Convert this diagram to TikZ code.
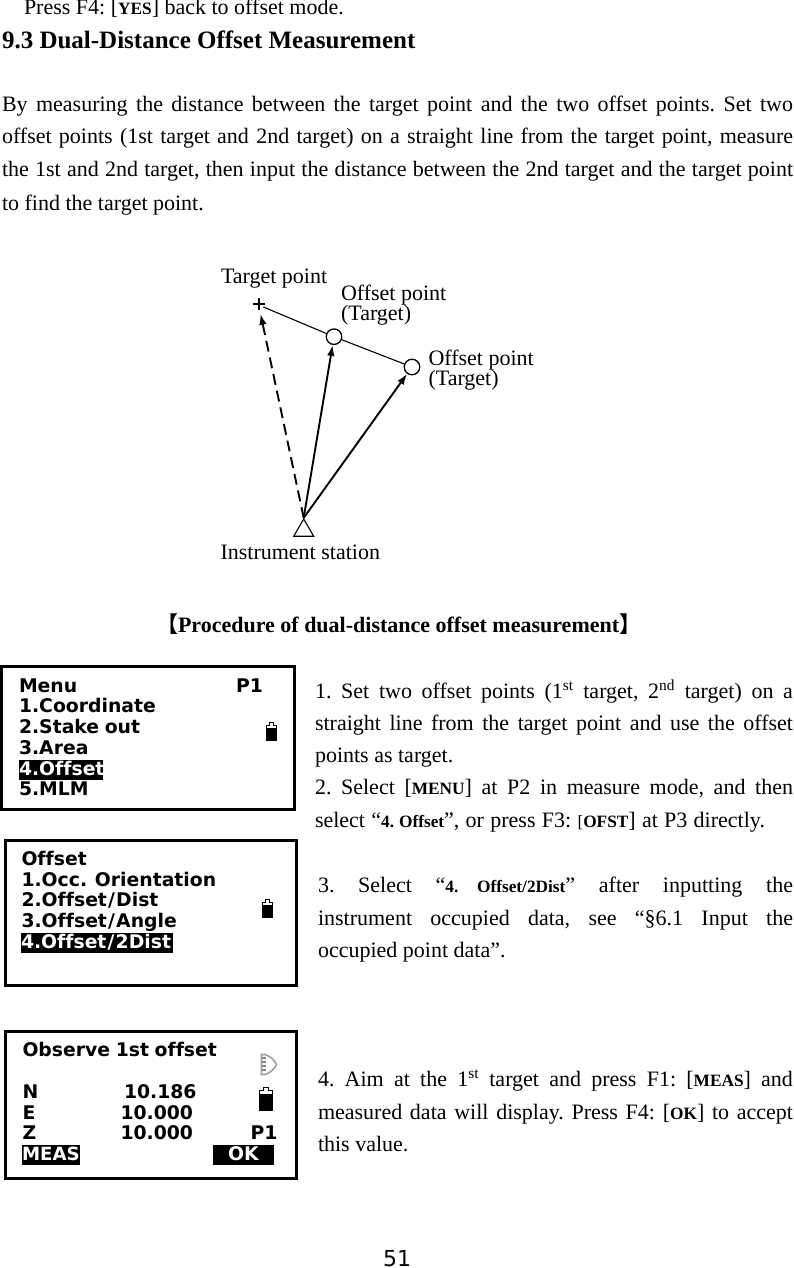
\documentclass[tikz,border=0pt]{standalone}
\usepackage{fontspec}
\setmainfont{Liberation Serif}
\newfontfamily\scr{DejaVu Sans}[BoldFont={DejaVu Sans Bold},Ligatures=NoCommon]
\newfontfamily\cjkbr{Noto Sans CJK SC}[BoldFont={Noto Sans CJK SC Bold}]
\usetikzlibrary{arrows.meta,shapes.geometric}
\newcommand{\bodyf}{\fontsize{22}{26}\selectfont\frenchspacing}
\newcommand{\scrf}{\scr\bfseries\fontsize{18.8}{22}\selectfont\spaceskip 0.3em\relax}
\newcommand{\smb}[1]{{\fontsize{17.3}{20}\selectfont\bfseries #1}}
\newcommand{\smn}[1]{{\fontsize{17.3}{20}\selectfont #1}}
\newcommand{\sus}[1]{\textsuperscript{#1}}
\newcommand{\wsl}{\hspace{1.2pt}/\hspace{1.2pt}}
% name, x, baseline y, width, text: one justified line
\newcommand{\jln}[5]{\node[txt] (#1) at (#2,#3) {\makebox[#4pt][s]{#5}};}
% name, x, baseline y, text: one natural line
\newcommand{\tln}[4]{\node[txt] (#1) at (#2,#3) {#4};}
\newcommand{\stl}[4]{\node[scrt] (#1) at (#2,#3) {#4};}
% x, bottom y, scale
\newcommand{\battery}[3]{%
  \begin{scope}[shift={(#1,#2)},scale=#3]
  \fill (-5.2,-13.5) rectangle (5.2,0);
  \draw[line width=0.8pt] (-5,-13.5) -- (-5,-16) -- (-2.2,-16) -- (-2.2,-18.5) -- (2.2,-18.5) -- (2.2,-16) -- (5,-16) -- (5,-13.5);
  \end{scope}}
\tikzset{
  txt/.style={anchor=base west,inner sep=0pt,outer sep=0pt,font=\bodyf},
  lab/.style={anchor=base west,inner sep=0pt,outer sep=0pt,font=\fontsize{22}{26}\selectfont},
  scrt/.style={anchor=base west,inner sep=0pt,outer sep=0pt,font=\scrf},
  hl/.style={scrt,fill=black,text=white,text height=15pt,text depth=4.5pt},
  screen/.style={draw=black,line width=3pt,fill=white,outer sep=0pt},
  pt/.style={circle,draw=black,line width=1.3pt,fill=white,minimum size=15.5pt,inner sep=0pt},
  tri/.style={regular polygon,regular polygon sides=3,draw=black,line width=1.1pt,minimum size=23pt,inner sep=0pt},
  sight/.style={line width=1.9pt,-{Latex[length=11pt,width=7.5pt]}},
  base/.style={line width=1.1pt},
}
\begin{document}
\begin{tikzpicture}[x=1pt,y=-1pt]
\useasboundingbox (0,0) rectangle (793,1268);
\tln{a0}{24}{15}{Press F4: [\smb{YES}] back to offset mode.}
\node[txt,font=\fontsize{25}{30}\selectfont\bfseries] (title) at (2,48.5) {9.3 Dual-Distance Offset Measurement};
\jln{p1}{2}{112}{791}{By measuring the distance between the target point and the two offset points. Set two}
\jln{p2}{2}{144}{791}{offset points (1st target and 2nd target) on a straight line from the target point, measure}
\jln{p3}{2}{177}{791}{the 1st and 2nd target, then input the distance between the 2nd target and the target point}
\tln{p4}{2}{210.5}{to find the target point.}

% figure
\coordinate (tp) at (258.7,305);
\node[pt] (c1) at (334,336.7) {};
\node[pt] (c2) at (412,367) {};
\node[tri] (st) at (303.7,530.5) {};
\draw[line width=2pt] (252.7,303.5) -- (264.7,303.5) (258.5,298) -- (258.5,310);
\draw[base,shorten <=5pt] (tp) -- (c1);
\draw[base] (c1) -- (c2);
\draw[sight] (st.corner 1) -- (c1);
\draw[sight] (st.corner 1) -- (c2);
\draw[sight,dash pattern=on 11pt off 6pt,shorten >=9pt] (st.corner 1) -- (tp);
\node[lab] (l1) at (221,283.5) {Target point};
\node[lab] (l2) at (341,300.5) {Offset point};
\node[lab] (l3) at (341,320.5) {(Target)};
\node[lab] (l4) at (428.5,365) {Offset point};
\node[lab] (l5) at (428.5,385) {(Target)};
\node[lab] (l6) at (220.5,559.5) {Instrument station};

\node[txt,font=\fontsize{22}{26}\selectfont\bfseries] (head) at (159,632) {{\cjkbr\hspace{-3pt}【}Procedure of dual-distance offset measurement{\cjkbr 】}};

% screen 1
\node[screen,anchor=north west,minimum width=293pt,minimum height=143pt,inner sep=0pt] (s1) at (1.5,666.5) {};
\stl{m0}{19}{692}{Menu}
\stl{m0b}{236}{692}{P1}
\stl{m1}{19}{712}{1.Coordinate}
\stl{m2}{19}{733}{2.Stake out}
\stl{m3}{19}{754}{3.Area}
\node[hl,text width=83.5pt] (m4) at (19,775) {4.Offset};
\stl{m5}{19}{795}{5.MLM}
\battery{271.5}{741}{1}

\jln{r1}{315}{698}{478}{1. Set two offset points (1\sus{st} target, 2\sus{nd} target) on a}
\jln{r2}{315}{730}{478}{straight line from the target point and use the offset}
\tln{r3}{315}{762}{points as target.}
\jln{r4}{315}{794}{478}{2. Select [\smb{MENU}] at P2 in measure mode, and then}
\jln{r5}{315}{827}{450}{select “\smb{4. Offset}”, or press F3: \smn{[}\smb{OFST}] at P3 directly.}

% screen 2
\node[screen,anchor=north west,minimum width=291pt,minimum height=145pt,inner sep=0pt] (s2) at (5,840) {};
\stl{o0}{21.5}{865}{Offset}
\stl{o1}{21.5}{886.5}{1.Occ. Orientation}
\stl{o2}{21.5}{906.5}{2.Offset\wsl Dist}
\stl{o3}{21.5}{927.5}{3.Offset\wsl Angle}
\node[hl,text width=152pt] (o4) at (21,948) {4.Offset\wsl 2Dist};
\battery{267.5}{918}{1}

\jln{r6}{318}{892}{475}{3. Select “\smb{4. Offset/2Dist}” after inputting the}
\jln{r7}{318}{925}{475}{instrument occupied data, see “§6.1 Input the}
\tln{r8}{318}{957}{occupied point data”.}

% screen 3
\node[screen,anchor=north west,minimum width=291pt,minimum height=147pt,inner sep=0pt] (s3) at (5.5,1031.5) {};
\stl{q0}{22.5}{1056.5}{Observe 1st offset}
\stl{q1}{22.5}{1098}{N}
\stl{q1b}{124}{1098}{10.186}
\stl{q2}{22.5}{1119}{E}
\stl{q2b}{120.5}{1119}{10.000}
\stl{q3}{22.5}{1139}{Z}
\stl{q3b}{120.5}{1139}{10.000}
\stl{q3c}{250.5}{1139}{P1}
\node[hl,text width=58pt] (q4) at (22,1160) {\fontsize{18.2}{22}\selectfont MEAS};
\node[hl,text width=61pt,align=center] (q5) at (213,1160) {OK};
\battery{266}{1111}{1.27}
\draw[gray!75,line width=1.6pt] (261.5,1054.5) -- (261.5,1074.5) -- (265,1074.5) .. controls (270,1073) and (274.5,1069) .. (276.5,1064.5) .. controls (274.5,1060) and (270,1056) .. (265,1054.5) -- cycle;
\draw[gray,line width=1.1pt] (262,1058) -- (265.5,1058) (262,1062) -- (265.5,1062) (262,1066) -- (265.5,1066) (262,1070) -- (265.5,1070);

\jln{r9}{318}{1086}{475}{4. Aim at the 1\sus{st} target and press F1: [\smb{MEAS}] and}
\jln{r10}{318}{1119}{475}{measured data will display. Press F4: [\smb{OK}] to accept}
\tln{r11}{318}{1151}{this value.}

\node[anchor=base,inner sep=0pt,font=\scr\fontsize{22}{26}\selectfont] (pg) at (397,1266) {51};
\end{tikzpicture}
\end{document}
